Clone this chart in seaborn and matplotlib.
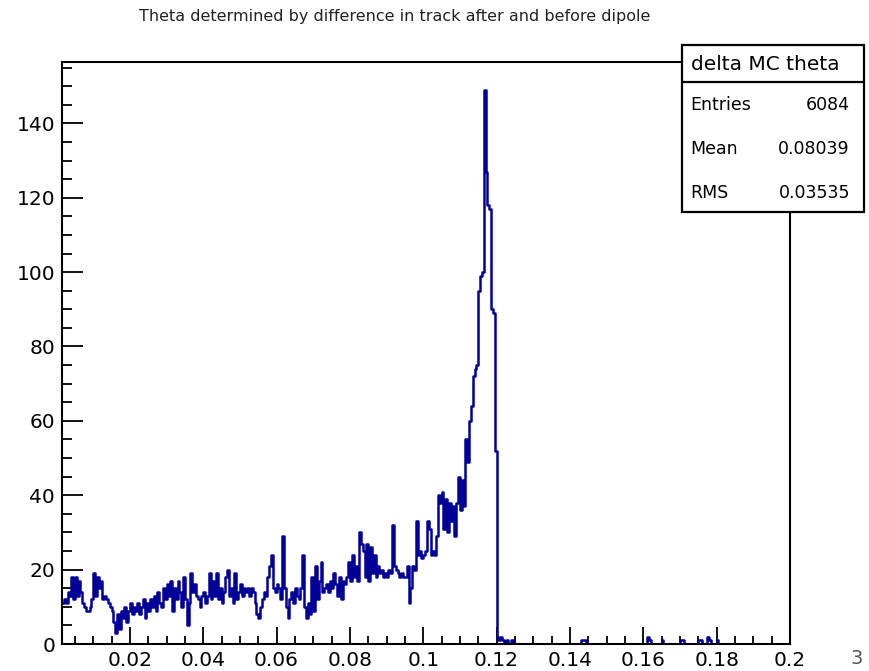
import numpy as np
import pandas as pd
import matplotlib
matplotlib.use("Agg")
import matplotlib.pyplot as plt
from matplotlib.patches import Rectangle
from matplotlib.lines import Line2D
import seaborn as sns

# Histogram binning: 397 bins of width 0.0005 from 0.0015 to 0.2
x_min = 0.0015
x_max = 0.2
n_bins = 397

# Bin contents, left to right
counts_low_a = [
    11, 12, 11, 14, 13, 18, 12, 18, 13, 17,
    14, 11, 10, 9, 9, 10, 12, 19, 13, 18,
    15, 17, 12, 13, 12, 11, 10, 9, 6, 3,
    8, 4, 9, 7, 10, 6, 9, 11, 8, 10,
    9, 11, 8, 10, 12, 7, 11, 9, 12, 10,
]
counts_low_b = [
    13, 9, 14, 11, 10, 15, 12, 16, 13, 17,
    9, 15, 12, 17, 14, 10, 18, 12, 5, 11,
    19, 14, 16, 13, 12, 10, 13, 14, 11, 13,
    19, 12, 17, 13, 19, 12, 15, 11, 14, 18,
    20, 13, 15, 11, 19, 12, 14, 16, 13, 15,
]
counts_mid_a = [
    14, 15, 13, 15, 14, 11, 8, 7, 10, 12,
    14, 13, 18, 21, 24, 15, 14, 16, 15, 12,
    29, 15, 10, 7, 12, 14, 11, 15, 13, 12,
    15, 24, 10, 7, 11, 8, 18, 9, 21, 12,
    17, 22, 14, 15, 16, 14, 17, 15, 19, 16,
]
counts_mid_b = [
    13, 18, 12, 17, 16, 18, 22, 17, 24, 18,
    21, 17, 30, 27, 25, 18, 27, 17, 26, 19,
    24, 18, 21, 19, 20, 18, 19, 18, 20, 19,
    32, 21, 20, 19, 18, 19, 18, 18, 21, 11,
    15, 21, 20, 33, 24, 25, 23, 24, 25, 33,
]
counts_peak = [
    31, 24, 25, 24, 29, 40, 38, 41, 31, 39,
    30, 38, 33, 37, 29, 38, 45, 36, 44, 37,
    55, 49, 60, 64, 72, 74, 75, 95, 99, 100,
    149, 127, 118, 117, 90, 89, 52, 2, 1, 2,
    1, 0, 1, 0, 0, 1, 0, 0, 0, 0,
]
# Sparse tail above the peak: bin index -> content
tail_bins = [283, 284, 285, 319, 320, 327, 337, 338, 347, 348, 352, 353, 357]
tail_counts = [1, 1, 1, 2, 1, 1, 1, 1, 1, 1, 2, 1, 1]

stat_title = "delta MC theta"
stat_names = ["Entries", "Mean", "RMS"]
stat_values = ["6084", "0.08039", "0.03535"]
title_text = "Theta determined by difference in track after and before dipole"

x_major = [0.02, 0.04, 0.06, 0.08, 0.10, 0.12, 0.14, 0.16, 0.18, 0.20]
x_major_labels = ["0.02", "0.04", "0.06", "0.08", "0.1", "0.12", "0.14", "0.16", "0.18", "0.2"]
y_major = [0, 20, 40, 60, 80, 100, 120, 140]

# ---------------------------------------------------------------------------
edges = np.linspace(x_min, x_max, n_bins + 1)
centers = 0.5 * (edges[:-1] + edges[1:])
counts = np.zeros(n_bins)
head = counts_low_a + counts_low_b + counts_mid_a + counts_mid_b + counts_peak
counts[:len(head)] = head
for b, c in zip(tail_bins, tail_counts):
    counts[b] = c
df = pd.DataFrame({"theta": centers, "n": counts})

sns.set_style("white")
plt.rcParams["font.family"] = ["DejaVu Sans"]
plt.rcParams["text.color"] = "black"

W, H = 870, 671
fig = plt.figure(figsize=(W / 100, H / 100), dpi=100)
fig.patch.set_facecolor("white")
ax = fig.add_axes([62 / W, 1 - 644 / H, (790 - 62) / W, (644 - 62) / H])

sns.histplot(data=df, x="theta", weights="n", bins=n_bins,
             binrange=(x_min, x_max), element="step",
             fill=False, color="#000099", linewidth=1.8, ax=ax)

ax.set_xlim(x_min, x_max)
ax.set_ylim(0, 156.5)
ax.set_xlabel("")
ax.set_ylabel("")

ax.set_xticks(x_major)
ax.set_xticklabels(x_major_labels)
ax.set_xticks(np.arange(0.005, 0.2001, 0.005), minor=True)
ax.set_yticks(y_major)
ax.set_yticklabels([str(v) for v in y_major])
ax.set_yticks(np.arange(0, 156, 5), minor=True)

ax.tick_params(axis="both", which="both", direction="in", colors="black",
               labelsize=14.5, width=1.3, bottom=True, left=True,
               top=False, right=False)
ax.tick_params(axis="x", which="major", length=12, pad=5)
ax.tick_params(axis="x", which="minor", length=6)
ax.tick_params(axis="y", which="major", length=15, pad=5)
ax.tick_params(axis="y", which="minor", length=7.5)
for sp in ax.spines.values():
    sp.set_visible(True)
    sp.set_color("black")
    sp.set_linewidth(1.5)

fig.text(395 / W, 1 - 17 / H, title_text, ha="center", va="center",
         fontsize=11.5, color="#222222")

# Statistics box
def fx(px):
    return px / W

def fy(py):
    return 1 - py / H

box = Rectangle((fx(682), fy(212)), fx(864) - fx(682), fy(45) - fy(212),
                transform=fig.transFigure, facecolor="white",
                edgecolor="black", linewidth=1.6, zorder=5)
fig.add_artist(box)
fig.add_artist(Line2D([fx(682), fx(864)], [fy(82), fy(82)],
                      transform=fig.transFigure, color="black",
                      linewidth=1.6, zorder=6))
fig.text(fx(765), fy(64), stat_title, ha="center", va="center",
         fontsize=14.5, color="black", zorder=7)
for i, (name, val) in enumerate(zip(stat_names, stat_values)):
    y = fy(105 + 44 * i)
    fig.text(fx(690), y, name, ha="left", va="center", fontsize=12.5,
             color="black", zorder=7)
    fig.text(fx(850), y, val, ha="right", va="center", fontsize=12.5,
             color="black", zorder=7)

fig.text(fx(857), fy(658), "3", ha="center", va="center", fontsize=14,
         color="#555555")

fig.savefig("out.png", dpi=100)
